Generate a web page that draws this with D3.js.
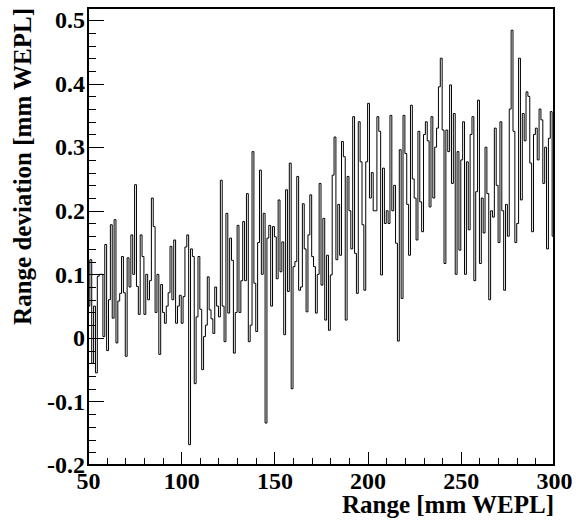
<!DOCTYPE html>
<html>
<head>
<meta charset="utf-8">
<script src="https://cdn.jsdelivr.net/npm/d3@7"></script>
<style>
  body { margin: 0; background: #fff; }
  svg text { font-family: 'Liberation Serif', 'Times New Roman', serif; font-weight: bold; fill: #000; }
</style>
</head>
<body>
<div id="chart"></div>
<script>
// histogram: 1 mm bins from 50 to 300 mm
const binLow = 50;
const binWidth = 1;
const deviation = [
  0.05, 0.123, -0.04, 0.05, -0.055, 0.097, 0.1, 0.1, 0.002, 0.147,
  -0.02, 0.06, 0.178, 0.031, 0.186, -0.008, 0.058, 0.07, 0.128, 0.071,
  -0.029, 0.126, 0.08, 0.162, 0.1, 0.241, 0.081, 0.037, 0.162, 0.128,
  0.037, 0.1, 0.06, 0.09, 0.22, 0.175, 0.04, 0.1, -0.026, 0.084,
  0.04, 0.023, 0.05, 0.071, 0.144, 0.06, 0.154, 0.023, 0.05, 0.067,
  0.023, 0.065, 0.143, 0.162, -0.168, 0.14, 0.128, -0.072, 0.033, 0.128,
  0.045, -0.05, 0.002, 0.02, 0.096, 0.044, 0.03, 0.007, 0.08, 0.05,
  0.033, 0.248, 0.05, -0.006, 0.196, 0.039, 0.157, 0.122, -0.024, 0.04,
  0.177, 0.04, 0.09, 0.183, 0.09, 0.227, -0.006, 0.02, 0.293, 0.086,
  0.01, 0.15, 0.264, 0.1, 0.196, -0.134, 0.157, 0.177, 0.05, 0.175,
  0.159, 0.093, 0.217, 0.104, 0.151, 0.005, 0.233, 0.073, 0.275, -0.08,
  0.112, 0.12, 0.254, 0.075, 0.08, 0.211, 0.14, 0.041, 0.162, 0.225,
  0.128, 0.112, 0.039, 0.1, 0.243, 0.083, 0.188, 0.028, 0.13, 0.012,
  0.099, 0.256, 0.316, 0.123, 0.21, 0.13, 0.309, 0.285, 0.028, 0.254,
  0.2, 0.14, 0.348, 0.133, 0.07, 0.34, 0.277, 0.178, 0.075, 0.277,
  0.369, 0.22, 0.26, 0.2, 0.2, 0.348, 0.325, 0.099, 0.267, 0.18,
  0.2, 0.18, 0.35, 0.2, 0.24, 0.149, -0.005, 0.296, 0.062, 0.35,
  0.29, 0.21, 0.13, 0.366, 0.25, 0.22, 0.154, 0.325, 0.214, 0.167,
  0.32, 0.34, 0.31, 0.206, 0.348, 0.22, 0.3, 0.33, 0.395, 0.44,
  0.327, 0.117, 0.327, 0.293, 0.398, 0.243, 0.353, 0.1, 0.293, 0.138,
  0.28, 0.34, 0.1, 0.277, 0.17, 0.32, 0.348, 0.09, 0.23, 0.374,
  0.117, 0.22, 0.165, 0.3, 0.227, 0.06, 0.2, 0.19, 0.33, 0.24,
  0.15, 0.34, 0.2, 0.075, 0.21, 0.16, 0.36, 0.484, 0.325, 0.15,
  0.18, 0.44, 0.217, 0.353, 0.31, 0.387, 0.38, 0.275, 0.167, 0.32,
  0.33, 0.28, 0.36, 0.343, 0.243, 0.3, 0.14, 0.314, 0.356, 0.16
];

const xTicks = [50, 100, 150, 200, 250, 300];
const yTicks = [-0.2, -0.1, 0, 0.1, 0.2, 0.3, 0.4, 0.5];
const xDomain = [50, 300];
const yDomain = [-0.2, 0.519];
const xTitle = 'Range [mm WEPL]';
const yTitle = 'Range deviation [mm WEPL]';

// set the dimensions and margins of the graph
const margin = { top: 8, right: 22, bottom: 58, left: 88 },
    width = 576 - margin.left - margin.right,
    height = 523 - margin.top - margin.bottom;

const svg = d3.select('#chart')
    .append('svg')
    .attr('width', width + margin.left + margin.right)
    .attr('height', height + margin.top + margin.bottom)
    .append('g')
    .attr('transform', `translate(${margin.left}, ${margin.top})`);

const x = d3.scaleLinear().domain(xDomain).range([0, width]);
const y = d3.scaleLinear().domain(yDomain).range([height, 0]);

const fmtY = d => d === 0 ? '0' : d.toFixed(1);

// minor ticks
svg.append('g')
    .attr('class', 'minor')
    .call(d3.axisLeft(y).tickValues(d3.range(-0.2, 0.519, 0.02)).tickSize(-8).tickFormat(''));
svg.append('g')
    .attr('class', 'minor')
    .attr('transform', `translate(0, ${height})`)
    .call(d3.axisBottom(x).tickValues(d3.range(50, 301, 10)).tickSize(-7).tickFormat(''));

// major ticks + labels
const yAxis = svg.append('g')
    .call(d3.axisLeft(y).tickValues(yTicks).tickSize(-15.5).tickPadding(3).tickFormat(fmtY));
const xAxis = svg.append('g')
    .attr('transform', `translate(0, ${height})`)
    .call(d3.axisBottom(x).tickValues(xTicks).tickSize(-13).tickPadding(7).tickFormat(d3.format('d')));

svg.selectAll('.domain').remove();
svg.selectAll('.tick line').attr('stroke', '#000').attr('shape-rendering', 'crispEdges');
svg.selectAll('.tick text')
    .attr('font-family', "'Liberation Serif', serif")
    .attr('font-weight', 'bold')
    .attr('font-size', '24px')
    .attr('fill', '#000');

// histogram outline
const pts = deviation.map((v, i) => [binLow + i * binWidth, v]);
pts.push([binLow + deviation.length * binWidth, deviation[deviation.length - 1]]);

svg.append('path')
    .datum(pts)
    .attr('fill', 'none')
    .attr('stroke', '#000')
    .attr('stroke-width', 1)
    .attr('d', d3.line()
        .x(d => x(d[0]))
        .y(d => y(d[1]))
        .curve(d3.curveStepAfter));

// frame
svg.append('rect')
    .attr('x', 0)
    .attr('y', 0)
    .attr('width', width)
    .attr('height', height)
    .attr('fill', 'none')
    .attr('stroke', '#000')
    .attr('stroke-width', 1.2)
    .attr('shape-rendering', 'crispEdges');

// axis titles
svg.append('text')
    .attr('x', width)
    .attr('y', height + 48)
    .attr('text-anchor', 'end')
    .attr('font-size', '25px')
    .text(xTitle);

svg.append('text')
    .attr('transform', 'rotate(-90)')
    .attr('x', 0)
    .attr('y', 31 - margin.left)
    .attr('text-anchor', 'end')
    .attr('font-size', '25px')
    .text(yTitle);
</script>
</body>
</html>
